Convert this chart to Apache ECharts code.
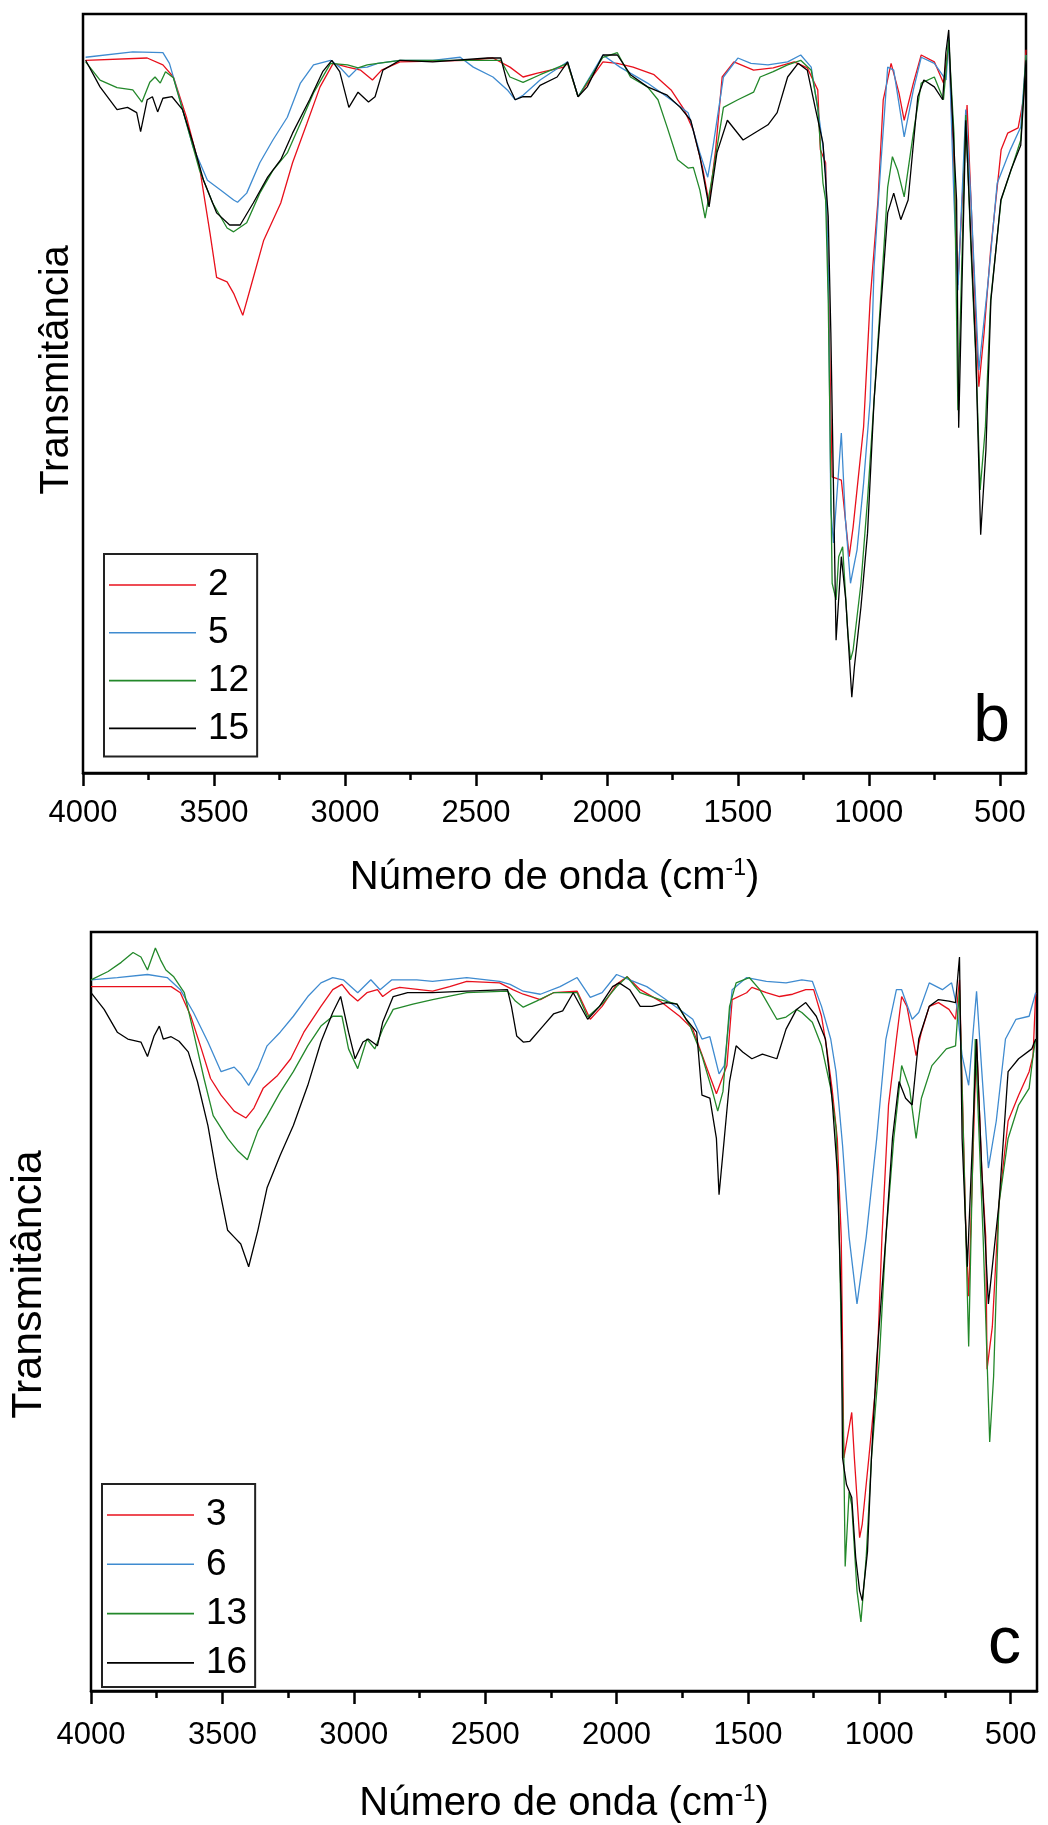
<!DOCTYPE html>
<html>
<head>
<meta charset="utf-8">
<script src="https://cdn.jsdelivr.net/npm/echarts@6/dist/echarts.min.js"></script>
<style>
html,body{margin:0;padding:0;background:#fff;}
#c{width:1048px;height:1825px;}
</style>
</head>
<body>
<div id="c"></div>
<script>
// ---- tick values (wavenumber, cm-1) ----
const xMajorTicks = [500, 1000, 1500, 2000, 2500, 3000, 3500, 4000];
const xMinorTicks = [750, 1250, 1750, 2250, 2750, 3250, 3750];

// ---- panel b : [wavenumber, transmittance (arb. %)] ----
const namesB = ['2', '5', '12', '15'];
const b2 = [[3990,93.9],[3755,94.2],[3695,93.3],[3655,91.7],[3605,86.4],[3555,79.8],[3515,71.1],[3490,65.3],[3450,64.7],[3425,63.2],[3390,60.3],[3360,64.0],[3310,70.2],[3245,75.1],[3200,80.4],[3145,85.6],[3095,90.4],[3045,93.5],[2990,93.0],[2940,92.6],[2895,91.3],[2860,92.6],[2790,93.7],[2535,93.9],[2435,94.2],[2370,93.0],[2320,91.7],[2265,92.2],[2165,93.0],[2150,93.5],[2110,89.1],[2015,93.7],[1960,93.5],[1900,93.0],[1820,92.0],[1755,90.0],[1705,87.4],[1670,84.7],[1635,79.8],[1610,75.1],[1585,82.1],[1560,91.7],[1515,93.7],[1440,92.6],[1365,92.9],[1285,93.7],[1235,92.9],[1195,90.0],[1185,82.1],[1165,80.4],[1155,65.9],[1145,47.8],[1140,39.0],[1105,38.6],[1075,28.5],[1060,32.4],[1020,45.6],[995,62.3],[965,75.5],[945,88.7],[915,93.5],[885,89.6],[865,86.0],[830,90.9],[800,94.6],[750,93.7],[715,90.9],[695,96.2],[675,79.8],[660,64.3],[625,88.0],[610,75.5],[590,58.4],[580,50.9],[560,58.0],[535,68.9],[495,82.1],[470,84.3],[430,85.0],[410,88.7],[400,95.3]];
const b5 = [[3990,94.3],[3810,95.0],[3695,94.9],[3670,93.5],[3630,88.7],[3580,82.5],[3525,78.1],[3475,76.8],[3425,75.5],[3410,75.2],[3375,76.4],[3325,80.4],[3275,83.4],[3220,86.4],[3170,90.9],[3120,93.3],[3055,93.9],[3020,93.0],[2985,91.7],[2950,92.9],[2915,93.0],[2875,93.5],[2790,93.9],[2665,93.9],[2560,94.3],[2510,93.0],[2435,91.7],[2380,90.0],[2350,88.7],[2320,89.3],[2255,91.3],[2150,93.7],[2110,89.1],[2015,94.6],[1950,93.0],[1845,90.9],[1755,88.7],[1690,87.0],[1645,81.7],[1615,78.5],[1595,82.5],[1555,91.7],[1500,94.2],[1450,93.5],[1385,93.3],[1310,93.7],[1260,94.6],[1220,93.0],[1190,86.4],[1175,82.5],[1165,79.1],[1155,66.7],[1145,34.7],[1135,30.3],[1105,44.8],[1090,33.7],[1070,25.0],[1045,29.4],[1020,38.2],[995,49.1],[980,66.7],[955,79.8],[928,93.0],[905,92.6],[865,83.8],[830,90.0],[800,94.3],[750,93.5],[705,91.3],[695,96.8],[675,75.5],[660,63.6],[630,87.4],[610,75.5],[580,53.1],[545,64.6],[510,77.7],[460,82.1],[420,85.1],[400,94.6]];
const b12 = [[3990,93.7],[3935,91.3],[3870,90.3],[3810,90.0],[3775,88.4],[3745,91.0],[3725,91.7],[3705,90.9],[3685,92.4],[3655,91.6],[3605,85.6],[3555,79.4],[3505,75.1],[3450,71.8],[3425,71.3],[3375,72.5],[3325,76.4],[3275,79.4],[3220,81.7],[3170,85.6],[3120,89.6],[3055,93.5],[2990,93.3],[2950,92.9],[2915,93.3],[2875,93.5],[2790,93.9],[2405,93.9],[2370,91.7],[2320,91.0],[2255,92.0],[2150,93.5],[2110,89.1],[2015,94.3],[1960,94.9],[1910,91.7],[1845,90.4],[1805,88.7],[1770,85.1],[1730,80.8],[1690,79.7],[1670,79.8],[1645,76.8],[1625,73.1],[1595,79.1],[1555,87.7],[1500,88.7],[1440,89.7],[1415,91.7],[1365,92.4],[1310,93.3],[1260,93.9],[1220,92.6],[1195,87.7],[1175,77.7],[1165,75.5],[1155,62.3],[1140,25.0],[1125,22.8],[1115,28.5],[1100,29.8],[1080,18.4],[1070,14.9],[1060,16.2],[1030,25.0],[1005,36.0],[980,49.1],[955,62.3],[928,77.2],[910,81.2],[890,79.4],[865,75.9],[830,84.3],[800,90.9],[750,91.7],[715,88.7],[695,96.6],[675,84.3],[660,47.8],[630,86.7],[610,68.9],[590,53.5],[575,37.3],[555,45.6],[535,62.3],[495,75.5],[460,79.1],[420,83.4],[400,94.6]];
const b15 = [[3990,93.9],[3935,90.4],[3870,87.4],[3830,87.7],[3795,87.0],[3780,84.5],[3755,88.7],[3735,89.1],[3715,87.1],[3695,88.9],[3660,89.1],[3620,87.4],[3580,83.0],[3540,78.1],[3490,73.8],[3440,72.2],[3400,72.2],[3350,75.1],[3295,78.5],[3245,80.8],[3200,84.3],[3135,88.7],[3085,92.4],[3050,93.9],[3020,92.4],[2985,87.7],[2950,89.7],[2910,88.4],[2885,89.1],[2855,92.6],[2790,93.9],[2665,93.7],[2455,94.2],[2405,94.2],[2380,90.9],[2350,88.7],[2320,89.1],[2290,89.1],[2255,90.6],[2190,91.7],[2150,93.7],[2110,89.1],[2075,90.4],[2015,94.6],[1960,94.6],[1910,92.0],[1845,90.4],[1770,89.3],[1720,87.7],[1680,86.0],[1645,81.2],[1610,74.6],[1580,81.7],[1540,86.0],[1480,83.4],[1385,85.4],[1350,87.0],[1310,91.7],[1270,93.5],[1235,92.6],[1205,87.7],[1175,83.0],[1155,73.3],[1145,58.0],[1125,17.5],[1105,28.5],[1088,22.8],[1065,10.0],[1055,14.0],[1030,21.9],[1005,31.6],[980,49.1],[928,73.8],[905,76.4],[878,72.9],[850,75.5],[813,89.1],[790,91.3],[750,90.4],[718,88.7],[706,94.9],[695,97.9],[687,90.9],[665,75.5],[657,45.5],[630,86.0],[592,55.7],[573,31.4],[553,42.6],[534,62.3],[496,75.5],[458,79.4],[420,82.7],[400,93.9]];

// ---- panel c ----
const namesC = ['3', '6', '13', '16'];
const c3 = [[4000,92.8],[3835,92.8],[3695,92.8],[3660,92.0],[3620,88.9],[3580,84.6],[3545,80.7],[3505,78.5],[3455,76.4],[3410,75.5],[3380,76.8],[3345,79.4],[3290,81.1],[3240,83.3],[3190,86.8],[3125,90.2],[3080,92.4],[3045,93.1],[3015,91.8],[2985,90.9],[2950,92.0],[2910,92.4],[2890,91.5],[2855,92.4],[2825,92.7],[2700,92.2],[2635,92.8],[2570,93.5],[2445,93.3],[2395,92.4],[2355,91.8],[2290,91.1],[2240,92.0],[2150,92.2],[2100,88.5],[2055,90.2],[2000,93.1],[1960,94.1],[1910,92.4],[1835,90.9],[1760,88.9],[1710,87.2],[1660,82.4],[1620,78.7],[1580,82.4],[1560,91.1],[1505,92.0],[1485,92.7],[1430,92.0],[1380,91.5],[1330,91.8],[1280,92.4],[1250,92.4],[1220,88.9],[1200,84.6],[1180,79.4],[1160,72.8],[1145,59.8],[1135,30.7],[1105,36.7],[1095,30.7],[1075,20.2],[1065,22.0],[1040,30.7],[1010,41.5],[990,59.8],[965,77.2],[935,85.9],[915,91.5],[895,90.2],[860,83.7],[840,86.8],[810,90.2],[775,90.7],[735,89.8],[710,88.5],[695,93.7],[670,59.8],[660,52.0],[630,85.9],[610,68.5],[595,59.8],[590,42.4],[570,48.0],[545,64.1],[510,75.1],[470,78.5],[430,81.6],[415,83.7],[405,92.0]];
const c6 = [[4000,93.7],[3900,94.0],[3785,94.4],[3710,94.0],[3660,92.4],[3610,89.4],[3555,85.5],[3505,81.6],[3455,82.2],[3430,81.3],[3400,79.8],[3365,82.0],[3330,85.0],[3280,86.8],[3230,88.9],[3175,91.5],[3125,93.3],[3080,94.0],[3040,93.7],[2985,92.0],[2935,93.7],[2900,92.4],[2855,93.7],[2760,93.7],[2700,93.5],[2570,94.0],[2445,93.5],[2405,93.1],[2355,92.2],[2290,91.8],[2215,92.8],[2150,94.0],[2100,91.4],[2055,92.0],[2000,94.4],[1950,93.7],[1885,92.8],[1825,91.4],[1760,89.8],[1710,88.5],[1675,85.9],[1645,86.2],[1610,81.3],[1590,82.4],[1560,92.4],[1505,94.0],[1430,93.5],[1355,93.3],[1295,93.7],[1255,93.5],[1220,90.2],[1185,85.9],[1165,81.6],[1140,71.9],[1115,59.8],[1085,51.0],[1050,59.8],[1010,72.8],[975,85.9],[935,92.4],[915,92.4],[875,88.5],[850,89.4],[810,93.3],[760,92.4],[725,93.3],[705,90.2],[685,83.7],[660,79.8],[630,92.2],[610,81.6],[585,68.9],[555,75.1],[520,85.9],[480,88.5],[430,88.9],[405,92.0]];
const c13 = [[4000,93.7],[3935,94.8],[3885,96.0],[3840,97.3],[3810,96.7],[3785,95.0],[3755,97.9],[3735,96.3],[3715,95.0],[3685,94.1],[3645,92.0],[3610,86.8],[3570,80.7],[3535,75.8],[3480,72.8],[3440,71.1],[3405,70.0],[3365,73.8],[3330,75.8],[3280,78.9],[3230,81.6],[3175,85.0],[3125,87.6],[3080,88.9],[3045,88.9],[3020,84.6],[2985,82.0],[2950,85.9],[2920,84.6],[2890,87.2],[2850,89.8],[2775,90.5],[2700,91.1],[2570,92.0],[2415,92.2],[2385,90.9],[2355,90.1],[2305,90.9],[2240,92.0],[2150,92.0],[2110,88.8],[2055,90.5],[2000,92.8],[1960,94.1],[1910,92.0],[1835,91.1],[1770,90.5],[1720,87.6],[1675,83.7],[1635,79.0],[1615,76.4],[1595,79.0],[1570,90.2],[1545,93.3],[1495,94.0],[1455,92.4],[1390,88.5],[1355,88.8],[1315,89.8],[1295,89.4],[1255,88.1],[1220,85.0],[1185,79.4],[1165,74.2],[1155,64.1],[1135,30.7],[1130,16.4],[1115,26.2],[1105,24.5],[1085,13.2],[1070,9.1],[1050,17.6],[1030,30.7],[1000,43.7],[975,59.8],[945,72.8],[915,82.4],[885,79.4],[860,72.8],[840,78.1],[800,82.4],[745,84.6],[710,85.0],[695,92.4],[680,72.8],[660,45.4],[635,85.9],[605,59.8],[580,32.8],[565,41.5],[545,64.1],[510,72.8],[470,77.2],[430,79.4],[415,83.7],[405,85.9]];
const c16 = [[4000,92.0],[3950,89.8],[3900,86.8],[3860,85.9],[3810,85.5],[3785,83.6],[3760,86.3],[3740,87.6],[3725,85.9],[3695,86.2],[3665,85.6],[3630,84.2],[3595,80.3],[3555,74.5],[3520,67.6],[3480,60.7],[3455,59.8],[3430,58.9],[3400,55.9],[3365,60.7],[3330,66.3],[3280,70.6],[3230,74.5],[3175,79.8],[3125,85.5],[3080,89.4],[3050,91.5],[3020,86.8],[2995,83.3],[2965,85.5],[2945,85.9],[2910,85.0],[2890,88.1],[2850,91.5],[2795,92.0],[2700,92.0],[2570,92.2],[2415,92.4],[2400,90.2],[2380,86.3],[2355,85.5],[2330,85.6],[2280,87.6],[2240,89.2],[2205,89.6],[2165,92.0],[2110,88.5],[2065,90.2],[2015,92.8],[1990,93.3],[1950,92.4],[1910,90.2],[1865,90.2],[1810,90.7],[1770,90.5],[1735,88.5],[1695,86.8],[1675,78.5],[1645,78.1],[1620,72.8],[1610,65.4],[1590,72.8],[1570,80.3],[1545,85.0],[1520,84.2],[1485,83.3],[1445,83.9],[1390,83.3],[1355,87.2],[1315,89.8],[1280,90.7],[1240,88.9],[1205,85.9],[1180,78.1],[1160,68.5],[1145,51.0],[1140,30.7],[1125,27.2],[1105,25.5],[1090,17.6],[1075,13.2],[1065,11.9],[1045,18.4],[1030,30.7],[1010,43.7],[975,59.8],[950,72.8],[925,80.3],[900,78.1],[875,77.2],[850,85.9],[810,90.2],[775,91.1],[735,90.9],[710,90.7],[695,96.7],[685,72.8],[665,55.9],[630,85.9],[610,68.5],[585,51.0],[545,64.1],[510,81.6],[470,83.3],[420,84.6],[405,85.9]];

const colors = ['#e8101c', '#3f8bd0', '#23882a', '#000000'];
const FONT = 'Liberation Sans, Arial, sans-serif';

const chart = echarts.init(document.getElementById('c'), null, {renderer: 'canvas'});

function mainX(gridIndex, margin, gap) {
  return {
    type: 'value', gridIndex: gridIndex, min: 400, max: 4000, inverse: true,
    axisLine: {show: true, onZero: false, lineStyle: {color: '#000', width: 2.5}},
    axisTick: {show: true, inside: false, length: 13, lineStyle: {color: '#000', width: 2.5}, customValues: xMajorTicks},
    axisLabel: {show: true, margin: margin, color: '#000', fontSize: 31, fontFamily: FONT, customValues: xMajorTicks,
      formatter: function (v) { return String(v); }},
    splitLine: {show: false},
    name: '{a|Número de onda (cm}{s|-1}{a|)}',
    nameLocation: 'middle', nameGap: gap,
    nameTextStyle: {
      rich: {
        a: {fontSize: 40, fontFamily: FONT, color: '#000', lineHeight: 42},
        s: {fontSize: 23, fontFamily: FONT, color: '#000', verticalAlign: 'top', lineHeight: 23}
      }
    }
  };
}
function minorX(gridIndex) {
  return {
    type: 'value', gridIndex: gridIndex, min: 400, max: 4000, inverse: true, position: 'bottom',
    axisLine: {show: false},
    axisTick: {show: true, inside: false, length: 7, lineStyle: {color: '#000', width: 2.5}, customValues: xMinorTicks},
    axisLabel: {show: false},
    splitLine: {show: false}
  };
}
function yAx(gridIndex, gap, size, shift) {
  return {
    type: 'value', gridIndex: gridIndex, min: 0, max: 100,
    axisLine: {show: false}, axisTick: {show: false}, axisLabel: {show: false}, splitLine: {show: false},
    name: 'Transmitância', nameLocation: 'middle', nameGap: gap,
    nameTextStyle: {fontSize: size, fontFamily: FONT, color: '#000', padding: [0, 0, 0, shift]}
  };
}
function mk(name, data, color, xi, yi) {
  return {
    name: name, type: 'line', xAxisIndex: xi, yAxisIndex: yi, data: data,
    symbol: 'none', showSymbol: false, smooth: false,
    lineStyle: {color: color, width: 1.3}, itemStyle: {color: color},
    emphasis: {disabled: true}
  };
}
function legend(names, left, top, gap, padB) {
  return {
    data: names, orient: 'vertical', left: left, top: top,
    padding: [11, 8, padB, 5], itemGap: gap, itemWidth: 87, itemHeight: 1.6,
    icon: 'rect',
    borderColor: '#222', borderWidth: 2, backgroundColor: '#fff',
    textStyle: {fontSize: 37, fontFamily: FONT, color: '#000', lineHeight: 40, padding: [0, 0, 0, 7]},
    selectedMode: false
  };
}

chart.setOption({
  animation: false,
  backgroundColor: '#fff',
  grid: [
    {left: 83, top: 14, width: 943, height: 759, show: true, borderColor: '#000', borderWidth: 2.5, containLabel: false},
    {left: 90, top: 932, width: 947, height: 766, show: true, borderColor: '#000', borderWidth: 2.5, containLabel: false}
  ],
  xAxis: [mainX(0, 25, 84), mainX(1, 29, 92), minorX(0), minorX(1)],
  yAxis: [yAx(0, 6, 40, 47), yAx(1, 40, 43, 54)],
  legend: [legend(namesB, 104, 554, 7.8, 8), legend(namesC, 102, 1484, 9.3, 4)],
  title: [
    {text: 'b', right: 38, top: 690, padding: 0, textStyle: {fontSize: 66, fontWeight: 'normal', fontFamily: FONT, color: '#000'}},
    {text: 'c', right: 27, top: 1612, padding: 0, textStyle: {fontSize: 66, fontWeight: 'normal', fontFamily: FONT, color: '#000'}}
  ],
  series: [
    mk(namesB[0], b2, colors[0], 0, 0),
    mk(namesB[1], b5, colors[1], 0, 0),
    mk(namesB[2], b12, colors[2], 0, 0),
    mk(namesB[3], b15, colors[3], 0, 0),
    mk(namesC[0], c3, colors[0], 1, 1),
    mk(namesC[1], c6, colors[1], 1, 1),
    mk(namesC[2], c13, colors[2], 1, 1),
    mk(namesC[3], c16, colors[3], 1, 1)
  ]
});
</script>
</body>
</html>
